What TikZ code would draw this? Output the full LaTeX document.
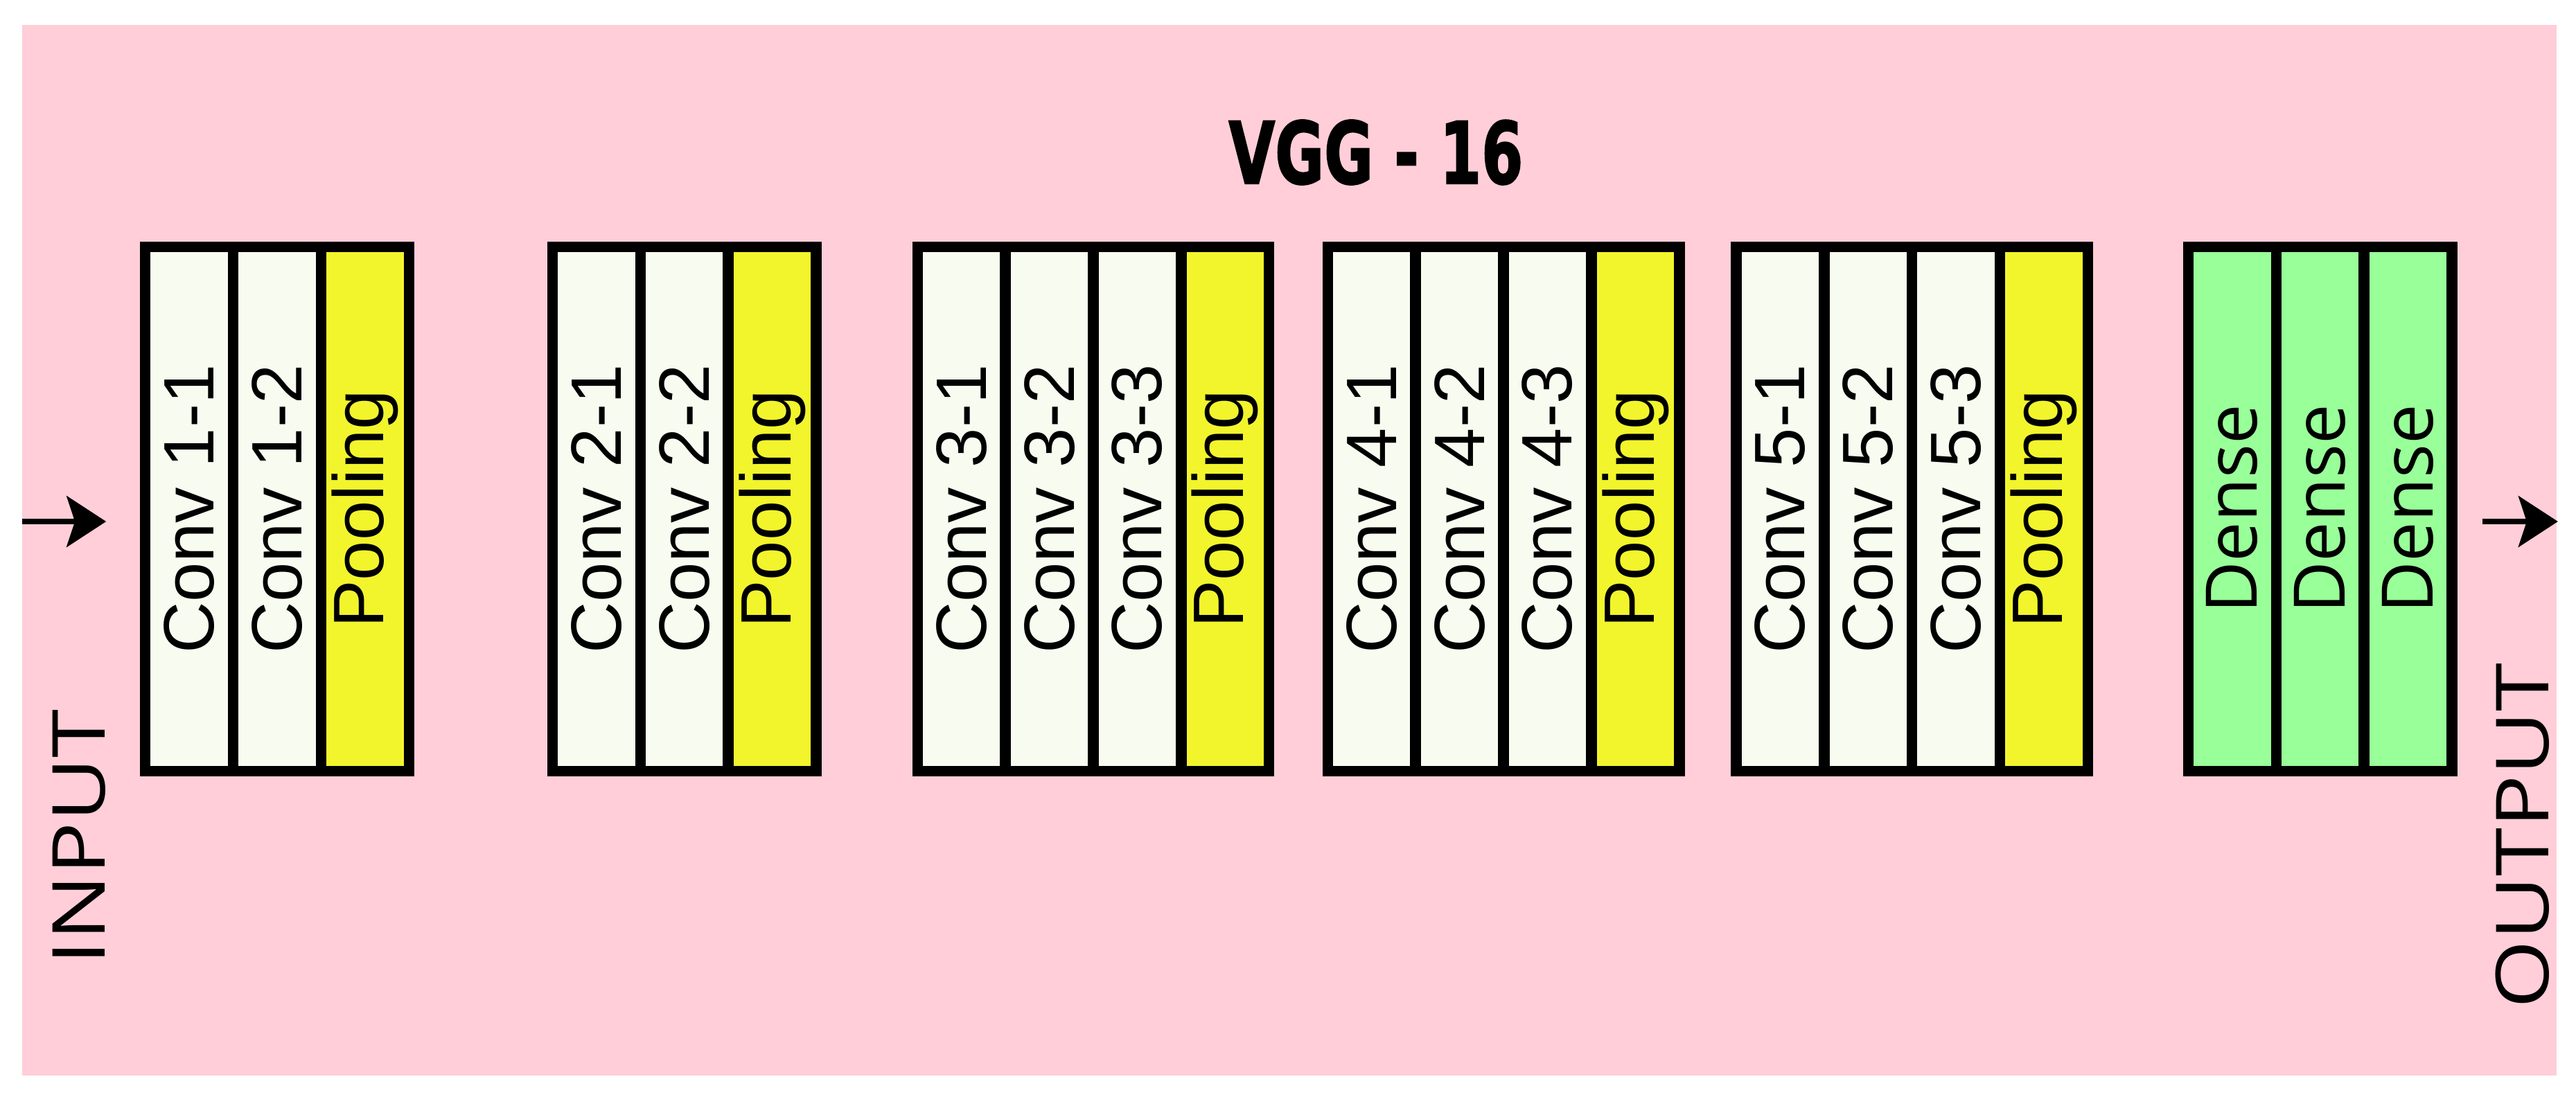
\documentclass[tikz,border=0pt]{standalone}
\usepackage{fontspec}
\usepackage{graphicx}
\setmainfont{Liberation Sans}
\newfontfamily\osans{Open Sans}
\newfontfamily\titlefont{DejaVu Sans}[BoldFeatures={FakeBold=2}]
\usetikzlibrary{arrows.meta}
\definecolor{bgpink}{RGB}{255,206,216}
\definecolor{convfill}{RGB}{248,252,240}
\definecolor{poolfill}{RGB}{242,245,44}
\definecolor{densefill}{RGB}{153,255,153}
\tikzset{
  cell/.style={draw=black, line width=1.85pt, rotate=90, minimum width=3.19cm,
    minimum height=0.535cm, inner sep=0pt, font=\fontsize{12.35}{14}\selectfont},
  conv/.style={cell, fill=convfill},
  pool/.style={cell, fill=poolfill},
  dense/.style={cell, fill=densefill, font=\osans\fontsize{12.3}{14}\selectfont},
  iolabel/.style={rotate=90, inner sep=0pt, font=\osans\fontsize{12.66}{14}\selectfont},
  flowarrow/.style={line width=1pt, -{Stealth[length=0.24cm, width=0.31cm, inset=0.05cm]}}
}
\begin{document}
\begin{tikzpicture}[x=0.01cm, y=-0.01cm]
\useasboundingbox (0,0) rectangle (1568,668);
\fill[bgpink] (13.3,15.3) rectangle (1556,655);

\node[inner sep=0pt, font=\titlefont\bfseries\fontsize{14.8}{16}\selectfont] (title) at (837.5,92.8) {\scalebox{0.7}[1]{VGG - 16}};

% block 1
\node[conv] (c11) at (115.15,310) {Conv 1-1};
\node[conv] (c12) at (168.65,310) {Conv 1-2};
\node[pool] (p1)  at (222.15,310) {Pooling};
% block 2
\node[conv] (c21) at (363.05,310) {Conv 2-1};
\node[conv] (c22) at (416.55,310) {Conv 2-2};
\node[pool] (p2)  at (470.05,310) {Pooling};
% block 3
\node[conv] (c31) at (585.25,310) {Conv 3-1};
\node[conv] (c32) at (638.75,310) {Conv 3-2};
\node[conv] (c33) at (692.25,310) {Conv 3-3};
\node[pool] (p3)  at (745.75,310) {Pooling};
% block 4
\node[conv] (c41) at (834.95,310) {Conv 4-1};
\node[conv] (c42) at (888.45,310) {Conv 4-2};
\node[conv] (c43) at (941.95,310) {Conv 4-3};
\node[pool] (p4)  at (995.45,310) {Pooling};
% block 5
\node[conv] (c51) at (1083.65,310) {Conv 5-1};
\node[conv] (c52) at (1137.15,310) {Conv 5-2};
\node[conv] (c53) at (1190.65,310) {Conv 5-3};
\node[pool] (p5)  at (1244.15,310) {Pooling};
% dense
\node[dense] (d1) at (1358.75,310) {Dense};
\node[dense] (d2) at (1412.25,310) {Dense};
\node[dense] (d3) at (1465.75,310) {Dense};

% input / output
\node[iolabel] (input) at (48.4,510) {\scalebox{1.2}[1]{INPUT}};
\node[iolabel] (output) at (1535.5,509) {\scalebox{1.2}[1]{OUTPUT}};

\coordinate (inL) at (13.3,317.6);
\coordinate (inR) at (64.6,317.6);
\coordinate (outL) at (1511,317.6);
\coordinate (outR) at (1557,317.6);
\draw[flowarrow] (inL) -- (inR);
\draw[flowarrow] (outL) -- (outR);
\end{tikzpicture}
\end{document}
